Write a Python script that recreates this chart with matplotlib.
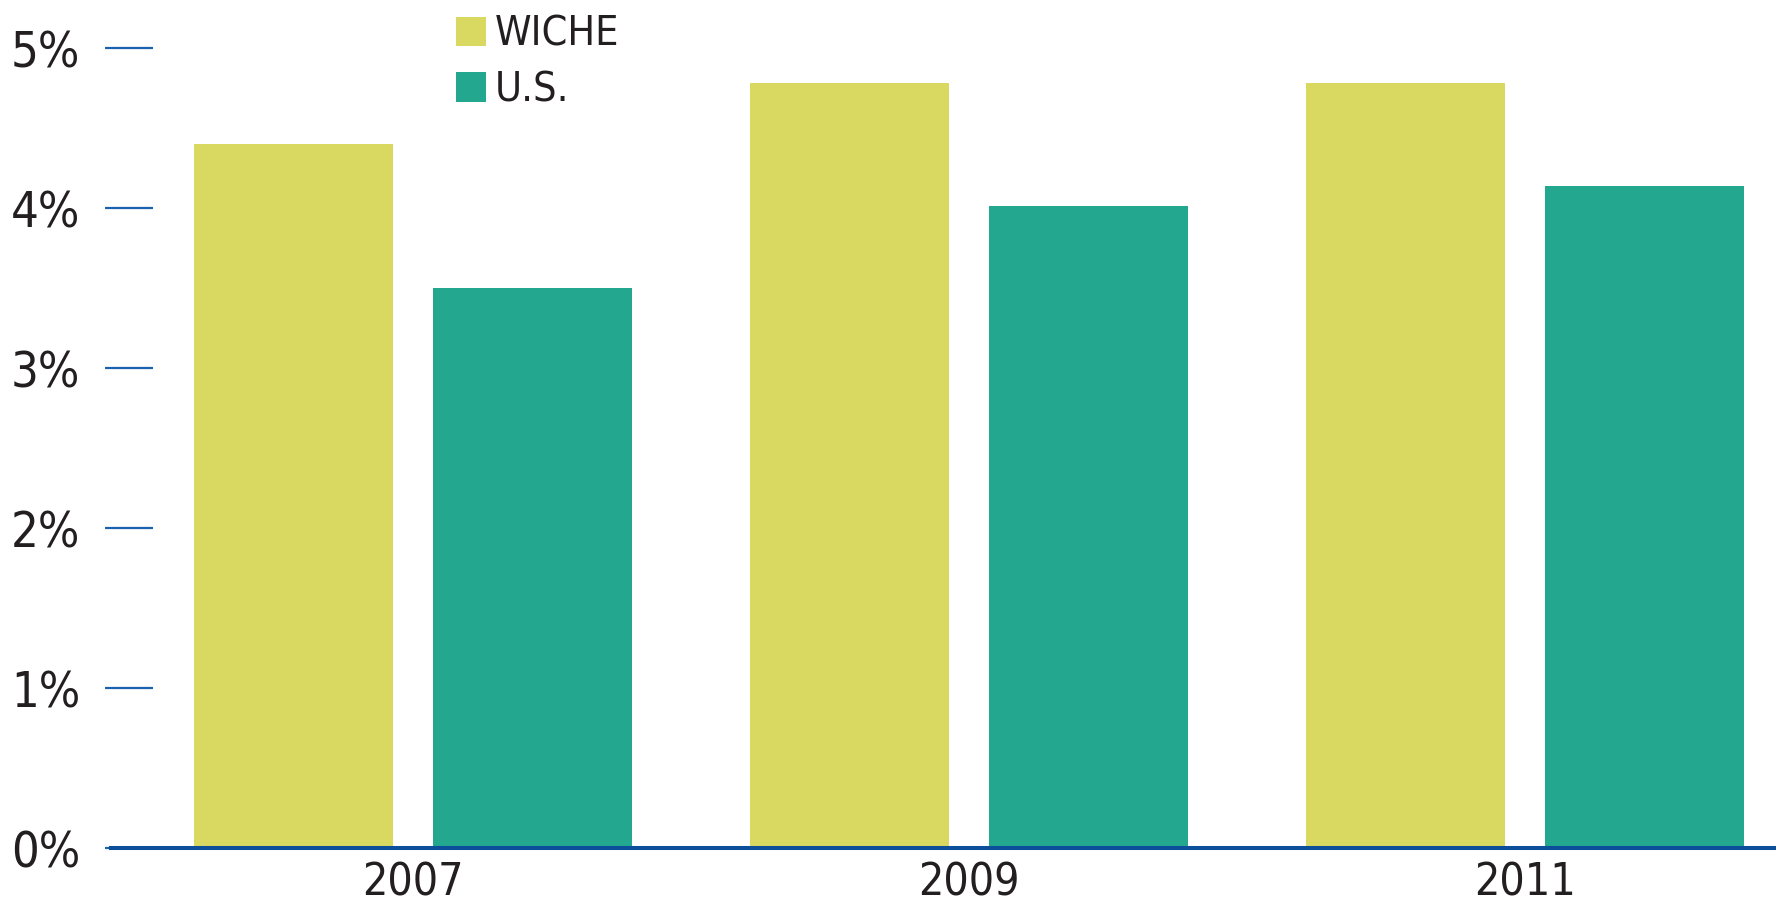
import numpy as np
import matplotlib.pyplot as plt

# === Данные ===
years = ['2007', '2009', '2011']
wiche = [4.40, 4.78, 4.78]
us = [3.50, 4.01, 4.14]
yticks = [0, 1, 2, 3, 4, 5]
ytick_labels = ['0%', '1%', '2%', '3%', '4%', '5%']

# === Стиль ===
plt.rcParams['font.family'] = ['DejaVu Sans']
plt.rcParams['font.stretch'] = 'condensed'
text_color = '#231f20'
blue = '#0b4f9b'
tick_blue = '#1a62ad'
c_wiche = '#d9d962'
c_us = '#23a78f'

W, H = 1776, 906
fig = plt.figure(figsize=(W / 100, H / 100), dpi=100)
ax = fig.add_axes([105 / W, (H - 848) / H, (W - 105) / W, 848 / H])

x = np.arange(len(years))
bw = 0.358
off = 0.215
b1 = ax.bar(x - off, wiche, bw, color=c_wiche, label='WICHE', zorder=2)
b2 = ax.bar(x + off, us, bw, color=c_us, label='U.S.', zorder=2)

ax.set_xlim(-0.554, 2.451)
ax.set_ylim(0, 848 / 160)

# базовая линия
ax.axhline(0, xmin=6 / (W - 105), xmax=1, color=blue, linewidth=2.9, zorder=3, clip_on=False)

for s in ax.spines.values():
    s.set_visible(False)

ax.set_yticks(yticks)
ax.set_yticklabels(ytick_labels)
ax.tick_params(axis='y', direction='in', length=34.5, width=1.6, color=tick_blue,
               pad=18, labelsize=35, labelcolor=text_color)
ax.set_xticks(x)
ax.set_xticklabels(years)
ax.tick_params(axis='x', length=0, pad=10, labelsize=32, labelcolor=text_color)

leg = ax.legend(loc='upper left', bbox_to_anchor=(456 / W, 1 - 15 / H),
                bbox_transform=fig.transFigure, frameon=False, fontsize=29.6,
                handlelength=0.73, handleheight=0.73, handletextpad=0.22,
                labelspacing=0.38, borderpad=0, borderaxespad=0)
for t in leg.get_texts():
    t.set_color(text_color)

fig.savefig('out.png', dpi=100)
